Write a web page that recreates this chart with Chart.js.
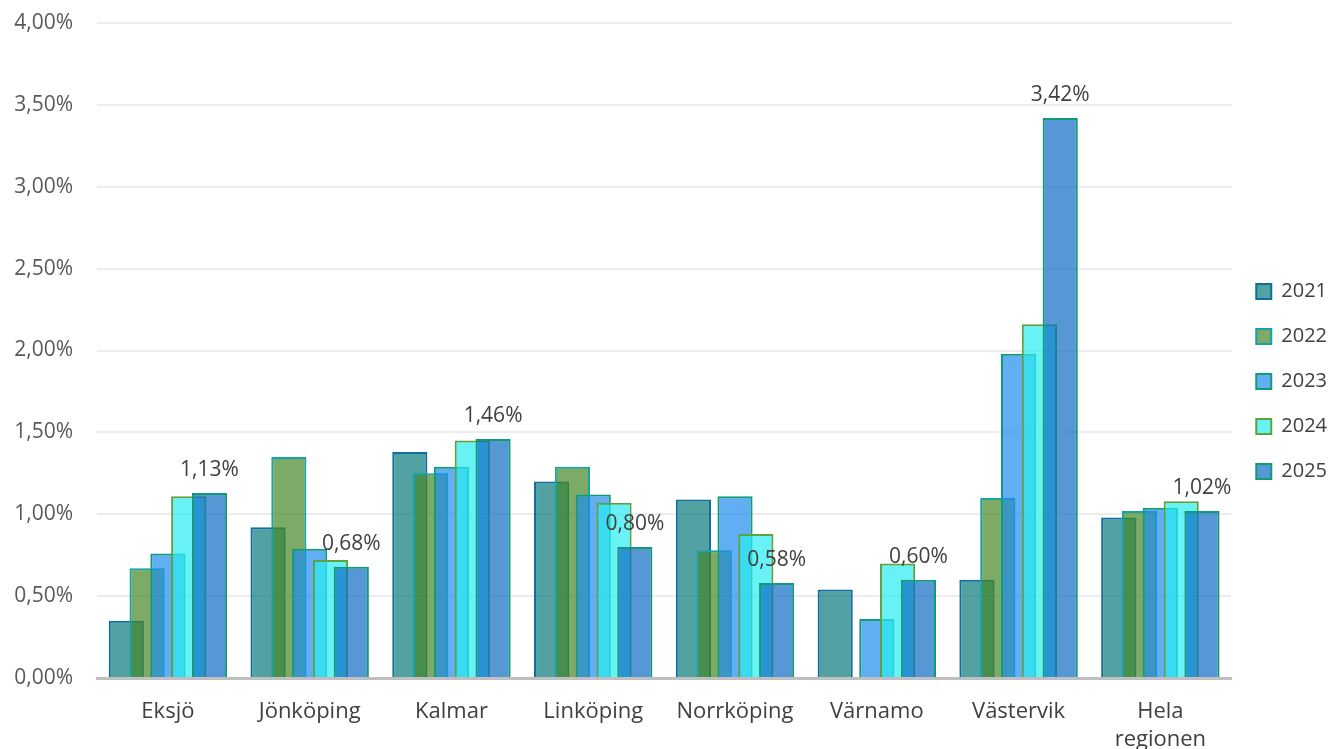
<!DOCTYPE html>
<html lang="sv">
<head>
<meta charset="utf-8">
<title>Andel per kommun 2021–2025</title>
<script src="https://cdn.jsdelivr.net/npm/chart.js@4/dist/chart.umd.min.js"></script>
<style>
    body { margin: 0; background: #ffffff; }
    #cadre { width: 1333px; height: 749px; }
</style>
</head>
<body>
<div id="cadre"><canvas id="graphique"></canvas></div>
<script>
// Catégories et séries (en %)
const kommuner = ["Eksjö", "Jönköping", "Kalmar", "Linköping", "Norrköping", "Värnamo", "Västervik", ["Hela", "regionen"]];
const annees = ["2021", "2022", "2023", "2024", "2025"];

const valeurs2021 = [0.35, 0.92, 1.38, 1.20, 1.09, 0.54, 0.60, 0.98];
const valeurs2022 = [0.67, 1.35, 1.25, 1.29, 0.78, null, 1.10, 1.02];
const valeurs2023 = [0.76, 0.79, 1.29, 1.12, 1.11, 0.36, 1.98, 1.04];
const valeurs2024 = [1.11, 0.72, 1.45, 1.07, 0.88, 0.70, 2.16, 1.08];
const valeurs2025 = [1.13, 0.68, 1.46, 0.80, 0.58, 0.60, 3.42, 1.02];

const yTicks = [0, 0.5, 1, 1.5, 2, 2.5, 3, 3.5, 4];

const couleursFond = [
    "rgba(8, 122, 125, 0.7)",
    "rgba(69, 134, 39, 0.7)",
    "rgba(31, 139, 236, 0.7)",
    "rgba(40, 236, 242, 0.7)",
    "rgba(14, 108, 197, 0.7)"
];
const couleursBord = ["#0e6f9c", "#17a3a6", "#119c78", "#5fa040", "#139a74"];

const series = [valeurs2021, valeurs2022, valeurs2023, valeurs2024, valeurs2025];

function formatPourcent(v) {
    return v.toFixed(2).replace(".", ",") + "%";
}

// Excel dessine la dernière série au-dessus : on inverse l'ordre de Chart.js
const ordreDessin = {
    id: "ordreDessin",
    beforeDatasetsDraw(chart) {
        for (let i = 0; i < chart.data.datasets.length; i++) {
            const meta = chart.getDatasetMeta(i);
            if (!meta.hidden) {
                meta.controller.draw();
            }
        }
        return false;
    },
    afterDraw(chart) {
        // Étiquettes de valeur sur la série 2025 seulement
        const ctx = chart.ctx;
        const meta = chart.getDatasetMeta(4);
        ctx.save();
        ctx.font = "21px 'Open Sans', sans-serif";
        ctx.fillStyle = "#404040";
        ctx.textAlign = "center";
        ctx.textBaseline = "middle";
        meta.data.forEach((barre, i) => {
            const v = valeurs2025[i];
            if (v === null) return;
            ctx.fillText(formatPourcent(v), barre.x, barre.y - 23);
        });
        ctx.restore();
    }
};

Chart.defaults.font.family = "'Open Sans', sans-serif";

const data = {
    labels: kommuner,
    datasets: series.map((valeurs, i) => ({
        label: annees[i],
        data: valeurs,
        backgroundColor: couleursFond[i],
        borderColor: couleursBord[i],
        borderWidth: 2,
        categoryPercentage: 0.734,
        barPercentage: 1.69
    }))
};

new Chart(document.querySelector("#graphique"), {
    type: "bar",
    data: data,
    options: {
        responsive: true,
        maintainAspectRatio: false,
        animation: false,
        layout: {
            padding: { left: 10, top: 14, right: -4, bottom: 0 }
        },
        plugins: {
            tooltip: { enabled: false },
            legend: {
                position: "right",
                labels: {
                    boxWidth: 15,
                    boxHeight: 15,
                    padding: 25,
                    color: "#404040",
                    font: { size: 20 }
                }
            }
        },
        scales: {
            x: {
                grid: { display: false, drawTicks: false },
                border: { display: true, color: "#bfbfbf", width: 3 },
                afterFit(axis) {
                    axis.height = 71;
                },
                ticks: {
                    color: "#404040",
                    padding: 20,
                    maxRotation: 0,
                    autoSkip: false,
                    font: { size: 22, lineHeight: 1.25 }
                }
            },
            y: {
                min: 0,
                max: 4,
                afterBuildTicks(axis) {
                    axis.ticks = yTicks.map(v => ({ value: v }));
                },
                afterFit(axis) {
                    axis.width = 87;
                    axis.paddingTop = 23;
                    axis.paddingBottom = 0;
                },
                grid: { color: "#ececec", lineWidth: 2, drawTicks: false },
                border: { display: false },
                ticks: {
                    color: "#595959",
                    padding: 24,
                    font: { size: 21 },
                    callback: v => formatPourcent(v)
                }
            }
        }
    },
    plugins: [ordreDessin]
});
</script>
</body>
</html>
